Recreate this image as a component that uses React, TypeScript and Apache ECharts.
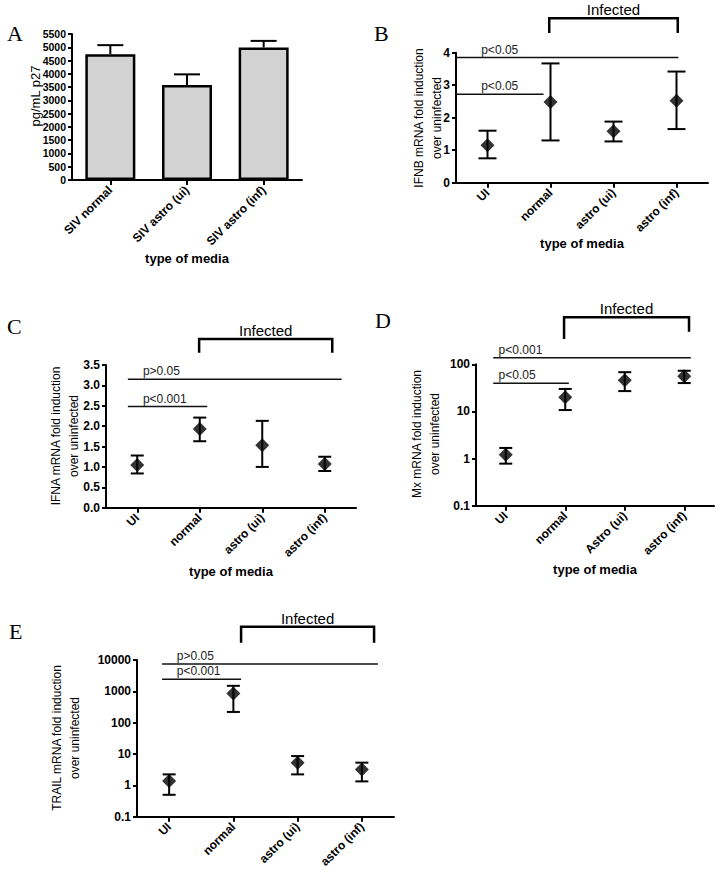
import React, { useEffect, useRef } from "react";
import * as echarts from "echarts";

const FONT = "'Liberation Sans', Arial, Helvetica, sans-serif";
const SERIF = "'Liberation Serif', 'Times New Roman', serif";

// Panel A: p27 ELISA
const catsA = ["SIV normal", "SIV astro (ui)", "SIV astro (inf)"];
const meanA = [4740, 3580, 4990];
const upperA = [5080, 3980, 5240];

// shared categories
const cats = ["UI", "normal", "astro (ui)", "astro (inf)"];
const catsD = ["UI", "normal", "Astro (ui)", "astro (inf)"];

// y-axis titles
const yTitles = [
  "pg/mL p27",
  "IFNB mRNA fold induction\nover uninfected",
  "IFNA mRNA fold induction\nover uninfected",
  "Mx mRNA fold induction\nover uninfected",
  "TRAIL mRNA fold induction\nover uninfected",
];

// Panel B: IFNB
const meanB = [1.15, 2.48, 1.58, 2.52];
const hiB = [1.6, 3.67, 1.88, 3.42];
const loB = [0.75, 1.3, 1.27, 1.65];
const sigLabelsB = ["p<0.05", "p<0.05"];
const sigLevelsB = [3.85, 2.72];
const sigFromB = [-0.5, -0.5];
const sigToB = [3.03, 0.89];
const sigTextB = [-0.1, -0.1];

// Panel C: IFNA
const meanC = [1.05, 1.93, 1.53, 1.07];
const hiC = [1.28, 2.21, 2.13, 1.25];
const loC = [0.84, 1.63, 1.0, 0.9];
const sigLabelsC = ["p>0.05", "p<0.001"];
const sigLevelsC = [3.15, 2.48];
const sigFromC = [-0.15, -0.15];
const sigToC = [3.27, 1.12];
const sigTextC = [0.09, 0.09];

// Panel D: Mx
const meanD = [1.2, 20, 46, 56];
const hiD = [1.68, 30, 68, 73];
const loD = [0.78, 10.7, 27, 40];
const sigLabelsD = ["p<0.001", "p<0.05"];
const sigLevelsD = [138, 39.5];
const sigFromD = [-0.21, -0.21];
const sigToD = [3.11, 1.06];
const sigTextD = [-0.12, -0.12];

// Panel E: TRAIL
const meanE = [1.37, 850, 5.3, 3.2];
const hiE = [2.24, 1500, 8.6, 5.3];
const loE = [0.5, 220, 2.24, 1.34];
const sigLabelsE = ["p>0.05", "p<0.001"];
const sigLevelsE = [7500, 2450];
const sigFromE = [-0.11, -0.11];
const sigToE = [3.25, 1.12];
const sigTextE = [0.12, 0.12];

// "Infected" brackets (category index span)
const bracketB = [0.98, 3.02];
const bracketC = [0.99, 3.12];
const bracketD = [0.98, 3.08];
const bracketE = [1.12, 3.19];

function errRender(capHalf: number, upperOnly: boolean) {
  return (params: any, api: any) => {
    const x = api.value(0);
    const a = api.coord([x, api.value(1)]);
    const b = api.coord([x, api.value(2)]);
    const style = { stroke: "#000", lineWidth: 2 };
    const children: any[] = [
      { type: "line", shape: { x1: a[0], y1: a[1], x2: b[0], y2: b[1] }, style },
      { type: "line", shape: { x1: b[0] - capHalf, y1: b[1], x2: b[0] + capHalf, y2: b[1] }, style },
    ];
    if (!upperOnly) {
      children.push({ type: "line", shape: { x1: a[0] - capHalf, y1: a[1], x2: a[0] + capHalf, y2: a[1] }, style });
    }
    return { type: "group", children };
  };
}

function sigRender(labels: string[]) {
  return (params: any, api: any) => {
    const y = api.value(2);
    const p0 = api.coord([api.value(0), y]);
    const p1 = api.coord([api.value(1), y]);
    const pt = api.coord([api.value(3), y]);
    return {
      type: "group",
      children: [
        { type: "line", shape: { x1: p0[0], y1: p0[1], x2: p1[0], y2: p1[1] }, style: { stroke: "#111", lineWidth: 1.5 } },
        {
          type: "text",
          x: pt[0],
          y: pt[1] - 2,
          style: { text: labels[params.dataIndex], fontSize: 12, fontFamily: FONT, fill: "#222", align: "left", verticalAlign: "bottom" },
        },
      ],
    };
  };
}

function bracketRender(offTop: number, dropL: number, dropR: number) {
  return (params: any, api: any) => {
    const top = params.coordSys.y;
    const a = api.coord([api.value(0), api.value(2)])[0];
    const b = api.coord([api.value(1), api.value(2)])[0];
    const yb = top - offTop;
    return {
      type: "group",
      children: [
        {
          type: "polyline",
          shape: { points: [[a, top - dropL], [a, yb], [b, yb], [b, top - dropR]] },
          style: { stroke: "#000", lineWidth: 2.5, fill: null },
        },
        {
          type: "text",
          x: (a + b) / 2,
          y: yb - 1,
          style: { text: "Infected", fontSize: 15, fontFamily: FONT, fill: "#000", align: "center", verticalAlign: "bottom" },
        },
      ],
    };
  };
}

const axisLineStyle = { show: true, onZero: false, lineStyle: { color: "#000", width: 2 } };
const tickStyle = { show: true, length: 5, lineStyle: { color: "#000", width: 2 } };

function catAxis(gridIndex: number, data: string[], nameGap: number | null, fontSize: number) {
  const ax: any = {
    type: "category",
    gridIndex,
    data,
    boundaryGap: true,
    axisLine: axisLineStyle,
    axisTick: { ...tickStyle, alignWithLabel: true },
    axisLabel: { rotate: 45, interval: 0, fontSize, fontWeight: "bold", color: "#000", fontFamily: FONT, margin: 8 },
    splitLine: { show: false },
  };
  if (nameGap !== null) {
    ax.name = "type of media";
    ax.nameLocation = "middle";
    ax.nameGap = nameGap;
    ax.nameTextStyle = { fontSize: 13, fontWeight: "bold", color: "#000", fontFamily: FONT };
  }
  return ax;
}

function valAxis(gridIndex: number, n: number) {
  return { type: "value", gridIndex, min: -0.5, max: n - 0.5, show: false, axisLine: { onZero: false } };
}

function yAxisDef(gridIndex: number, extra: any, fontSize: number, fmt: (v: number) => string) {
  return {
    gridIndex,
    axisLine: axisLineStyle,
    axisTick: { ...tickStyle, length: 4 },
    splitLine: { show: false },
    axisLabel: { fontSize, fontWeight: "bold", color: "#000", fontFamily: FONT, margin: 6, formatter: fmt },
    ...extra,
  };
}

const plainFmt = (v: number) => String(v);
const oneDec = (v: number) => v.toFixed(1);
const logFmt = (v: number) => (v < 1 ? v.toFixed(1) : String(Math.round(v)));

function scatterPanel(
  i: number,
  mean: number[],
  lo: number[],
  hi: number[],
  labels: string[],
  levels: number[],
  from: number[],
  to: number[],
  textAt: number[],
  bracket: number[],
  yRef: number,
  bracketGeom: number[],
  cap: number
) {
  const xi = 2 * i;
  const vi = 2 * i + 1;
  return [
    {
      type: "custom",
      xAxisIndex: xi,
      yAxisIndex: i,
      renderItem: errRender(cap, false),
      encode: { x: 0, y: [1, 2] },
      data: mean.map((_, k) => [k, lo[k], hi[k]]),
      silent: true,
      z: 2,
    },
    {
      type: "scatter",
      xAxisIndex: xi,
      yAxisIndex: i,
      symbol: "diamond",
      symbolSize: [14, 14],
      itemStyle: { color: "#000" },
      data: mean,
      z: 3,
    },
    {
      type: "custom",
      xAxisIndex: vi,
      yAxisIndex: i,
      renderItem: sigRender(labels),
      encode: { x: [0, 1, 3], y: 2 },
      data: levels.map((lv, k) => [from[k], to[k], lv, textAt[k]]),
      clip: false,
      silent: true,
    },
    {
      type: "custom",
      xAxisIndex: vi,
      yAxisIndex: i,
      renderItem: bracketRender(bracketGeom[0], bracketGeom[1], bracketGeom[2]),
      encode: { x: [0, 1], y: 2 },
      data: [[bracket[0], bracket[1], yRef]],
      clip: false,
      silent: true,
    },
  ];
}

function buildOption() {
  const grids = [
    { left: 72, top: 34, width: 230, height: 146 },
    { left: 456, top: 52.7, width: 252, height: 130 },
    { left: 106, top: 365, width: 250, height: 142.7 },
    { left: 476, top: 364.3, width: 238, height: 141.4 },
    { left: 137, top: 660, width: 257, height: 156.7 },
  ].map((g) => ({ ...g, containLabel: false }));

  const xAxis = [
    catAxis(0, catsA, 72, 12),
    valAxis(0, 3),
    catAxis(1, cats, 54, 12),
    valAxis(1, 4),
    catAxis(2, cats, 57, 12),
    valAxis(2, 4),
    catAxis(3, catsD, 57, 12),
    valAxis(3, 4),
    catAxis(4, cats, null, 12),
    valAxis(4, 4),
  ];

  const yAxis = [
    yAxisDef(0, { type: "value", min: 0, max: 5500, interval: 500 }, 10.5, plainFmt),
    yAxisDef(1, { type: "value", min: 0, max: 4, interval: 1 }, 12, plainFmt),
    yAxisDef(2, { type: "value", min: 0, max: 3.5, interval: 0.5 }, 12, oneDec),
    yAxisDef(3, { type: "log", logBase: 10, min: 0.1, max: 100 }, 12, logFmt),
    yAxisDef(4, { type: "log", logBase: 10, min: 0.1, max: 10000 }, 12, logFmt),
  ];

  const series: any[] = [
    {
      type: "bar",
      xAxisIndex: 0,
      yAxisIndex: 0,
      data: meanA,
      barWidth: 50,
      itemStyle: { color: "#d2d2d2", borderColor: "#000", borderWidth: 2.5 },
      z: 2,
    },
    {
      type: "custom",
      xAxisIndex: 0,
      yAxisIndex: 0,
      renderItem: errRender(13, true),
      encode: { x: 0, y: [1, 2] },
      data: meanA.map((m, k) => [k, m, upperA[k]]),
      silent: true,
      z: 3,
    },
    ...scatterPanel(1, meanB, loB, hiB, sigLabelsB, sigLevelsB, sigFromB, sigToB, sigTextB, bracketB, 0, [34.4, 19.7, 19.7], 9),
    ...scatterPanel(2, meanC, loC, hiC, sigLabelsC, sigLevelsC, sigFromC, sigToC, sigTextC, bracketC, 0, [26, 12.3, 12.3], 6.5),
    ...scatterPanel(3, meanD, loD, hiD, sigLabelsD, sigLevelsD, sigFromD, sigToD, sigTextD, bracketD, 0.1, [47, 25.3, 32.6], 6.5),
    ...scatterPanel(4, meanE, loE, hiE, sigLabelsE, sigLevelsE, sigFromE, sigToE, sigTextE, bracketE, 0.1, [33.3, 17.3, 17.3], 6.5),
  ];

  const letter = (t: string, x: number, y: number) => ({
    type: "text",
    x,
    y,
    style: { text: t, fontSize: 22, fontFamily: SERIF, fill: "#000", align: "left", verticalAlign: "middle" },
  });

  const yTitle = (i: number, x: number, y: number, size: number) => ({
    type: "text",
    x,
    y,
    rotation: Math.PI / 2,
    style: { text: yTitles[i], fontSize: size, lineHeight: 18, fontFamily: FONT, fill: "#000", align: "center", verticalAlign: "middle" },
  });

  return {
    animation: false,
    backgroundColor: "#fff",
    grid: grids,
    xAxis,
    yAxis,
    series,
    graphic: [
      letter("A", 7, 33),
      letter("B", 374, 33),
      letter("C", 7, 326),
      letter("D", 375, 320),
      letter("E", 9, 631),
      yTitle(0, 35, 96, 13),
      yTitle(1, 428, 118, 12),
      yTitle(2, 65, 436, 12),
      yTitle(3, 426, 434, 12),
      yTitle(4, 66, 738, 12),
    ],
  };
}

export default function App() {
  const ref = useRef<HTMLDivElement>(null);
  useEffect(() => {
    document.body.style.margin = "0";
    if (!ref.current) return;
    const chart = echarts.init(ref.current, null, { renderer: "svg" });
    chart.setOption(buildOption() as any);
    return () => chart.dispose();
  }, []);
  return <div ref={ref} style={{ width: 724, height: 872 }} />;
}
